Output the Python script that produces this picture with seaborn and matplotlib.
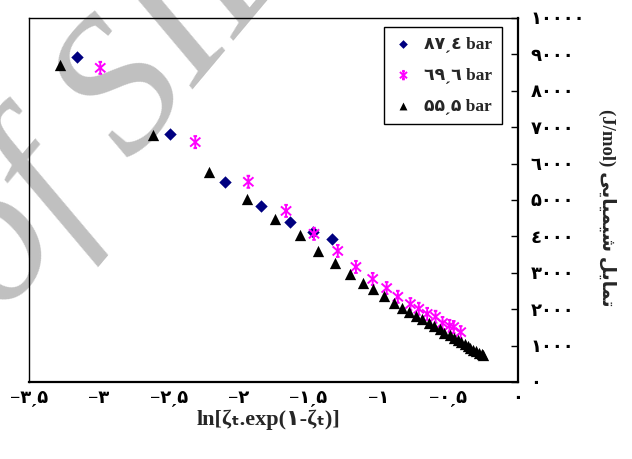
import numpy as np
import matplotlib.pyplot as plt
import seaborn as sns
from matplotlib.path import Path
from matplotlib.markers import MarkerStyle

# values
x_874 = [-3.16, -2.49, -2.10, -1.84, -1.63, -1.47, -1.33]
y_874 = [8930, 6810, 5490, 4840, 4400, 4120, 3930]

x_696 = [-2.99, -2.31, -1.93, -1.66, -1.46, -1.29, -1.16, -1.04, -0.94,
         -0.86, -0.77, -0.71, -0.65, -0.59, -0.54, -0.49, -0.46, -0.41]
y_696 = [8630, 6590, 5500, 4700, 4070, 3600, 3160, 2830, 2580,
         2340, 2140, 2010, 1870, 1790, 1620, 1540, 1510, 1370]

x_555 = [-3.28, -2.61, -2.21, -1.94, -1.74, -1.56, -1.43, -1.31, -1.20, -1.11,
         -1.04, -0.96, -0.89, -0.83, -0.78, -0.73, -0.69, -0.64, -0.60, -0.56,
         -0.53, -0.49, -0.46, -0.43, -0.41, -0.38, -0.36, -0.34, -0.32, -0.30,
         -0.28, -0.26, -0.25]
y_555 = [8710, 6790, 5770, 5030, 4480, 4040, 3600, 3270, 2970, 2720,
         2560, 2360, 2170, 2030, 1920, 1810, 1730, 1620, 1540, 1460,
         1350, 1290, 1210, 1150, 1090, 1030, 980, 930, 880, 840,
         800, 770, 740]

series_labels = ["۸۷ˏ٤ bar", "٦۹ˏ٦ bar", "۵۵ˏ۵ bar"]

x_ticks = [-3.5, -3, -2.5, -2, -1.5, -1, -0.5, 0]
x_tick_labels = ["−۳ˏ۵", "−۳", "−۲ˏ۵", "−۲", "−۱ˏ۵", "−۱", "−۰ˏ۵", "۰"]
y_ticks = [0, 1000, 2000, 3000, 4000, 5000, 6000, 7000, 8000, 9000, 10000]
y_tick_labels = ["۰", "۱۰۰۰", "۲۰۰۰", "۳۰۰۰", "٤۰۰۰", "۵۰۰۰",
                 "٦۰۰۰", "۷۰۰۰", "۸۰۰۰", "۹۰۰۰", "۱۰۰۰۰"]

# pre-shaped (visual order) persian label: تمایل شیمیایی
word_shimiyaei = "\uFEF0\uFEF3\uFE8E\uFEF4\uFEE4\uFEF4\uFEB7"
word_tamayol = "\uFEDE\uFEF3\uFE8E\uFEE4\uFE97"
y_label = "(J/mol) " + word_shimiyaei + " " + word_tamayol
x_label = "ln[ζₜ.exp(۱-ζₜ)]"

sns.set_theme(style="white")
FAMILY = ["Liberation Serif", "DejaVu Sans"]
plt.rcParams["font.family"] = FAMILY
plt.rcParams["font.weight"] = "bold"

fig = plt.figure(figsize=(6.32, 4.59), dpi=100)
ax = fig.add_axes([0.0459, 0.1678, 0.7737, 0.793])

# watermark in the background
ax.text(0.005, 0.312, "of SID", transform=fig.transFigure, fontsize=140,
        family="Liberation Serif", style="italic", weight="normal",
        color="#c0c0c0", rotation=50, ha="left", va="baseline",
        rotation_mode="anchor", zorder=0, clip_on=False)

star = Path([(0, -1), (0, 1), (-0.85, -0.75), (0.85, 0.75),
             (-0.85, 0.75), (0.85, -0.75), (-0.3, 1), (0.3, 1),
             (-0.3, -1), (0.3, -1)],
            [Path.MOVETO, Path.LINETO] * 5)
star_marker = MarkerStyle(star, fillstyle="none")

sns.scatterplot(x=x_874, y=y_874, marker="D", s=40, color="#000080",
                linewidth=0, label=series_labels[0], ax=ax, zorder=3)
sns.scatterplot(x=x_696, y=y_696, marker=star_marker, s=75, color="#FF00FF",
                linewidth=1.4, label=series_labels[1], ax=ax, zorder=3)
sns.scatterplot(x=x_555, y=y_555, marker="^", s=66, color="black",
                linewidth=0, label=series_labels[2], ax=ax, zorder=3)

ax.set_xlim(-3.5, 0)
ax.set_ylim(0, 10000)
ax.set_xticks(x_ticks)
ax.set_xticklabels(x_tick_labels)
ax.set_yticks(y_ticks)
ax.set_yticklabels(y_tick_labels)
ax.yaxis.tick_right()
ax.tick_params(axis="both", direction="in", length=5, width=1, colors="black",
               labelsize=13)
ax.tick_params(axis="x", pad=6)
ax.tick_params(axis="y", pad=9, left=False, right=True)
for lab in ax.get_xticklabels() + ax.get_yticklabels():
    lab.set_fontweight("bold")

for side in ["top", "left"]:
    ax.spines[side].set_linewidth(1.0)
for side in ["bottom", "right"]:
    ax.spines[side].set_linewidth(1.6)
for sp in ax.spines.values():
    sp.set_color("black")

ax.set_xlabel(x_label, fontsize=16, fontweight="bold")
ax.xaxis.set_label_coords(0.489, -0.105)
ax.xaxis.label.set_va("center")

ax.yaxis.set_label_position("right")
ax.set_ylabel(y_label, fontsize=13.5, fontweight="bold", rotation=270)
ax.yaxis.label.set_va("center")
ax.yaxis.label.set_ha("center")
ax.yaxis.set_label_coords(1.182, 0.48)

leg = ax.legend(loc="upper right", bbox_to_anchor=(0.967, 0.975),
                borderaxespad=0, frameon=True, fancybox=False, framealpha=1,
                edgecolor="black", fontsize=12.5, markerscale=0.7,
                labelspacing=0.85, handletextpad=0.6, borderpad=0.55,
                handlelength=1.2)
leg.get_frame().set_linewidth(1.0)
for t in leg.get_texts():
    t.set_fontweight("bold")

fig.savefig("out.png", dpi=100)
